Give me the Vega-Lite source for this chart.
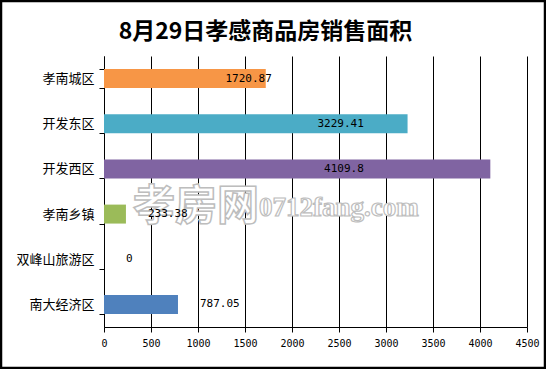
{
  "$schema": "https://vega.github.io/schema/vega-lite/v6.json",
  "autosize": {"type": "none"},
  "padding": {"left": 104, "top": 56, "right": 19, "bottom": 42},
  "width": 423,
  "height": 271,
  "background": "white",
  "title": {
    "text": "8月29日孝感商品房销售面积",
    "font": "Noto Sans CJK SC",
    "fontSize": 23,
    "fontWeight": "bold",
    "color": "black",
    "anchor": "middle",
    "dx": -50,
    "baseline": "middle",
    "offset": -55
  },
  "data": {
    "values": [
      {"region": "孝南城区", "area": 1720.87},
      {"region": "开发东区", "area": 3229.41},
      {"region": "开发西区", "area": 4109.8},
      {"region": "孝南乡镇", "area": 233.38},
      {"region": "双峰山旅游区", "area": 0},
      {"region": "南大经济区", "area": 787.05}
    ]
  },
  "config": {
    "view": {"stroke": null},
    "axis": {"domainColor": "black", "tickColor": "black", "labelColor": "black", "domainWidth": 1, "tickWidth": 1}
  },
  "encoding": {
    "y": {
      "field": "region",
      "type": "nominal",
      "sort": null,
      "title": null,
      "scale": {"paddingInner": 0.58, "paddingOuter": 0.29},
      "axis": {
        "tickBand": "extent",
        "tickSize": 5,
        "labelPadding": 5,
        "labelFont": "Noto Sans CJK SC",
        "labelFontSize": 13,
        "grid": false
      }
    }
  },
  "layer": [
    {
      "mark": {"type": "bar"},
      "encoding": {
        "x": {
          "field": "area",
          "type": "quantitative",
          "title": null,
          "scale": {"domain": [0, 4500], "nice": false},
          "axis": {
            "values": [0, 500, 1000, 1500, 2000, 2500, 3000, 3500, 4000, 4500],
            "format": "d",
            "grid": true,
            "gridColor": "black",
            "gridOpacity": 1,
            "gridWidth": 1,
            "tickSize": 5,
            "labelPadding": 6,
            "labelFont": "DejaVu Sans Mono",
            "labelFontSize": 10,
            "labelFlush": false
          }
        },
        "color": {
          "field": "region",
          "type": "nominal",
          "legend": null,
          "scale": {
            "domain": ["孝南城区", "开发东区", "开发西区", "孝南乡镇", "双峰山旅游区", "南大经济区"],
            "range": ["#F79646", "#4BACC6", "#8064A2", "#9BBB59", "#C0504D", "#4F81BD"]
          }
        }
      }
    },
    {
      "data": {"values": [{"t": "孝房网"}]},
      "mark": {"type": "text", "font": "Noto Sans CJK SC", "fontWeight": "bold", "fontSize": 42, "align": "left", "baseline": "middle", "fill": "white", "stroke": "#bdbdbd", "strokeWidth": 1.5, "dy": -7},
      "encoding": {
        "x": {"datum": 309, "type": "quantitative"},
        "y": {"datum": "孝南乡镇", "type": "nominal"},
        "text": {"field": "t"}
      }
    },
    {
      "data": {"values": [{"t": "0712fang.com"}]},
      "mark": {"type": "text", "font": "Liberation Serif", "fontWeight": "bold", "fontSize": 27, "align": "left", "baseline": "middle", "fill": "white", "stroke": "#bdbdbd", "strokeWidth": 1.2, "dy": -6},
      "encoding": {
        "x": {"datum": 1650, "type": "quantitative"},
        "y": {"datum": "孝南乡镇", "type": "nominal"},
        "text": {"field": "t"}
      }
    },
    {
      "transform": [
        {"filter": "datum.area >= 1000"},
        {"calculate": "min(datum.area, 2700)", "as": "lx"}
      ],
      "mark": {"type": "text", "font": "DejaVu Sans Mono", "fontSize": 11, "align": "right", "baseline": "middle", "dx": 6, "color": "black"},
      "encoding": {
        "x": {"field": "lx", "type": "quantitative"},
        "text": {"field": "area", "type": "quantitative", "format": ".2~f"}
      }
    },
    {
      "transform": [
        {"filter": "datum.area < 1000"}
      ],
      "mark": {"type": "text", "font": "DejaVu Sans Mono", "fontSize": 11, "align": "left", "baseline": "middle", "dx": 22, "color": "black"},
      "encoding": {
        "x": {"field": "area", "type": "quantitative"},
        "text": {"field": "area", "type": "quantitative", "format": ".2~f"}
      }
    },
    {
      "data": {"values": [{}]},
      "mark": {"type": "rect", "fill": null, "stroke": "black", "strokeWidth": 2.5},
      "encoding": {
        "x": {"value": -103},
        "x2": {"value": 441},
        "y": {"value": -55},
        "y2": {"value": 312}
      }
    }
  ]
}
